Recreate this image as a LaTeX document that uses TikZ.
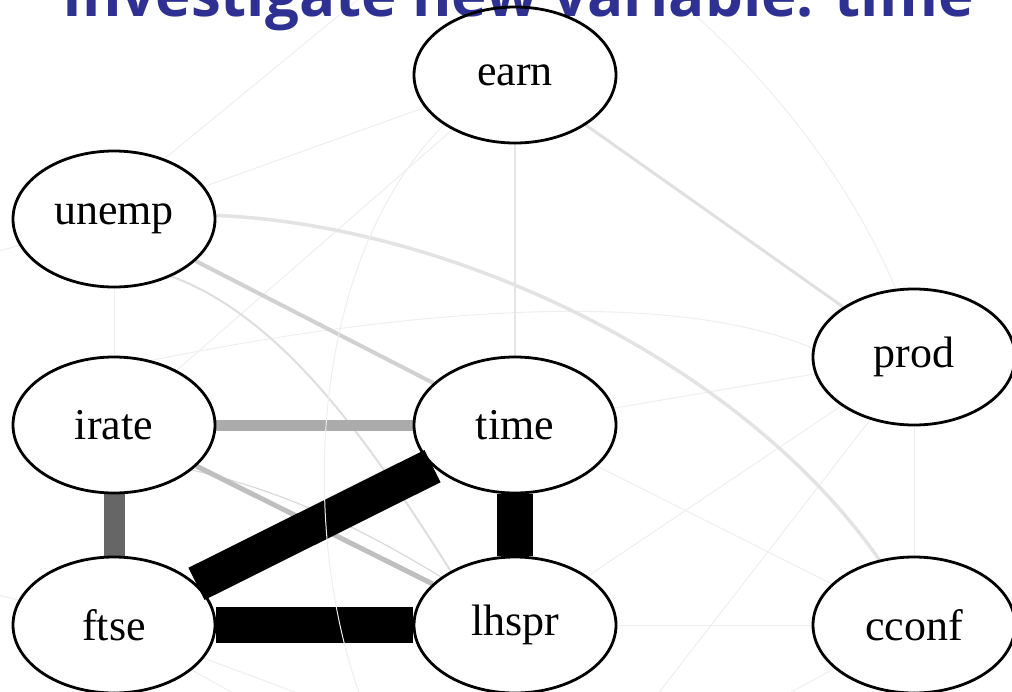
\documentclass[tikz,border=0pt]{standalone}
\usepackage{fontspec}
\setmainfont{Liberation Serif}
\newfontfamily\headfont{Open Sans}
\usetikzlibrary{shapes.geometric,backgrounds}
\definecolor{headblue}{RGB}{46,49,146}
\definecolor{faintgray}{RGB}{238,238,238}
\begin{document}
\begin{tikzpicture}[x=1pt,y=-1pt,
  var/.style={ellipse,draw,line width=2.8pt,minimum width=202pt,
    minimum height=136pt,inner sep=0pt,font=\fontsize{44}{48}\selectfont},
  faint/.style={draw=faintgray,line width=1pt},
  weak/.style={draw=black!12,line width=3pt},
  mild/.style={draw=black!18,line width=4pt},
  medium/.style={draw=black!25,line width=5pt},
  fair/.style={draw=black!33,line width=11pt},
  firm/.style={draw=black!60,line width=21pt},
  heavy/.style={draw=black,line width=36pt}]
\useasboundingbox (0,0) rectangle (1012,691);
\clip (0,0) rectangle (1012,691);

% heading, running above the top edge
\node[anchor=base west,inner sep=0pt,text=headblue,
  font=\headfont\bfseries\fontsize{60}{64}\selectfont] (head) at (62,16)
  {Investigate new variable: time};

% variables
\node[var] (earn)  at (515,75)  {earn};
\node[var] (unemp) at (114,219) {unemp};
\node[var] (irate) at (114,425) {irate};
\node[var] (time)  at (515,425) {time};
\node[var] (prod)  at (914,357) {prod};
\node[var] (ftse)  at (114,625) {ftse};
\node[var] (lhspr) at (515,625) {lhspr};
\node[var] (cconf) at (914,625) {cconf};

% ends of edges leading out of view
\coordinate (outA) at (400,-35);
\coordinate (outB) at (370,720);
\coordinate (outC) at (640,-30);
\coordinate (outD) at (640,717);
\coordinate (outE) at (740,720);
\coordinate (outF) at (330,705);
\coordinate (outG) at (290,725);
\coordinate (outH) at (-40,262);
\coordinate (outI) at (-40,585);

\begin{pgfonlayer}{background}
\clip (0,0) rectangle (1012,691);
% faint associations
\draw[faint] (unemp.50) -- (outA);
\draw[faint] (earn) -- (unemp);
\draw[faint] (earn) -- (irate);
\draw[faint] (unemp) -- (irate);
\draw[faint] (time) -- (prod);
\draw[faint] (prod) -- (lhspr);
\draw[faint] (time) -- (cconf);
\draw[faint] (lhspr) -- (cconf);
\draw[faint] (prod) -- (cconf);
\draw[faint] (prod.235) -- (outD);
\draw[faint] (cconf) -- (outE);
\draw[faint] (ftse) -- (outF);
\draw[faint] (ftse.330) -- (outG);
\draw[faint] (unemp) -- (outH);
\draw[faint] (ftse) -- (outI);
\draw[faint] (irate.60) .. controls (350,320) and (650,280) .. (prod.175);
\draw[faint] (outC) .. controls (760,60) and (850,180) .. (prod.105);
\draw[draw=black!10,line width=1.5pt] (earn) -- (time);
% weaker associations
\draw[weak] (earn) -- (prod);
\draw[draw=black!11,line width=3.5pt] (unemp.2) .. controls (450,225) and (740,360) .. (cconf.118);
\draw[draw=black!13,line width=2pt] (unemp.315) .. controls (290,320) and (380,460) .. (lhspr.140);
\draw[mild] (unemp) -- (time);
\draw[draw=black!15,line width=1.2pt] (irate.330) .. controls (300,495) and (380,540) .. (lhspr.147);
\draw[medium] (irate) -- (lhspr);
% strong associations
\draw[fair] (irate) -- (time);
\draw[firm] (irate) -- (ftse);
\draw[heavy] (time) -- (ftse);
\draw[heavy] (time) -- (lhspr);
\draw[heavy] (ftse) -- (lhspr);
% faint edge running over the strong ones
\draw[faint] (earn.215) .. controls (300,270) and (300,560) .. (outB);
\end{pgfonlayer}
\end{tikzpicture}
\end{document}
